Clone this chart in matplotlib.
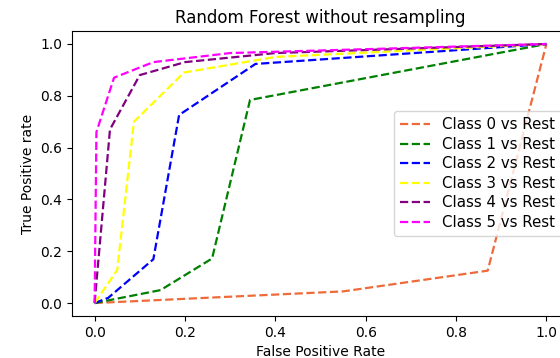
import matplotlib
matplotlib.use('Agg')
import matplotlib.pyplot as plt

# ROC points (fpr, tpr per class)
fpr0 = [0.0, 0.55, 0.87, 1.0]
tpr0 = [0.0, 0.045, 0.125, 1.0]
fpr1 = [0.0, 0.146, 0.26, 0.344, 1.0]
tpr1 = [0.0, 0.05, 0.172, 0.784, 1.0]
fpr2 = [0.0, 0.03, 0.13, 0.187, 0.356, 1.0]
tpr2 = [0.0, 0.02, 0.169, 0.726, 0.923, 1.0]
fpr3 = [0.0, 0.05, 0.087, 0.198, 0.4, 1.0]
tpr3 = [0.0, 0.127, 0.70, 0.89, 0.95, 1.0]
fpr4 = [0.0, 0.034, 0.10, 0.2, 0.4, 1.0]
tpr4 = [0.0, 0.67, 0.88, 0.93, 0.965, 1.0]
fpr5 = [0.0, 0.004, 0.043, 0.13, 0.3, 1.0]
tpr5 = [0.0, 0.66, 0.87, 0.93, 0.965, 1.0]

fprs = [fpr0, fpr1, fpr2, fpr3, fpr4, fpr5]
tprs = [tpr0, tpr1, tpr2, tpr3, tpr4, tpr5]
labels = ['Class 0 vs Rest', 'Class 1 vs Rest', 'Class 2 vs Rest',
          'Class 3 vs Rest', 'Class 4 vs Rest', 'Class 5 vs Rest']
colors = ['#ef6a3a', 'green', 'blue', 'yellow', 'purple', 'magenta']

fig = plt.figure(figsize=(5.6, 3.58), dpi=100)
ax = fig.add_axes([0.1286, 0.1173, 0.8875, 0.796])

for i in range(len(fprs)):
    ax.plot(fprs[i], tprs[i], linestyle='--', lw=1.6, color=colors[i], label=labels[i])

ax.set_title('Random Forest without resampling')
ax.set_xlabel('False Positive Rate')
ax.set_ylabel('True Positive rate')
ax.legend(loc='center right', fontsize=10.8, labelspacing=0.3)

plt.savefig('out.png', dpi=100)
plt.close()
